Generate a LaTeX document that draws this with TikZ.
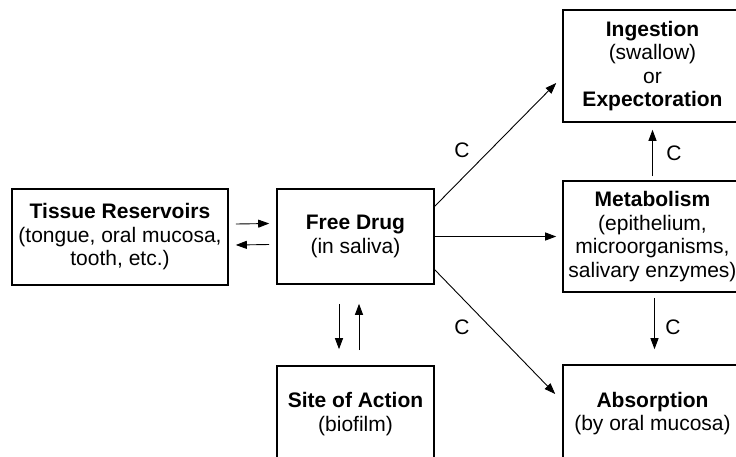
\documentclass[tikz,border=0pt]{standalone}
\usepackage{fontspec}
\setmainfont{Liberation Sans}
\usetikzlibrary{arrows.meta}
\begin{document}
\begin{tikzpicture}[x=1pt,y=-1pt,
  box/.style={draw, line width=1.6pt, align=center, inner sep=0pt, font=\fontsize{21}{23.5}\selectfont},
  arr/.style={line width=0.9pt, -{Triangle[length=11pt,width=8pt]}},
  lab/.style={font=\fontsize{21}{23.5}\selectfont, inner sep=0pt}]
\useasboundingbox (0,0) rectangle (736,456);
\clip (0,0) rectangle (736,456);
\node[box, minimum width=216pt, minimum height=96pt] (tissue) at (120,237)
  {\textbf{Tissue Reservoirs}\\(tongue, oral mucosa,\\tooth, etc.)};
\node[box, minimum width=157pt, minimum height=95pt] (free) at (355.5,236.5)
  {\textbf{Free Drug}\\(in saliva)};
\node[box, minimum width=179pt, minimum height=112pt] (ingest) at (652.5,66)
  {\textbf{Ingestion}\\(swallow)\\or\\\textbf{Expectoration}};
\node[box, minimum width=179pt, minimum height=111pt] (metab) at (652.5,236.5)
  {\textbf{Metabolism}\\(epithelium,\\microorganisms,\\salivary enzymes)};
\node[box, minimum width=179pt, minimum height=97pt] (absorb) at (652.5,413.5)
  {\textbf{Absorption}\\(by oral mucosa)};
\node[box, minimum width=157pt, minimum height=96pt] (site) at (355.5,414)
  {\textbf{Site of Action}\\(biofilm)};
% tissue <-> free
\draw[arr] ([shift={(7,-13)}]tissue.east) -- ([shift={(-7,-13)}]free.west);
\draw[arr] ([shift={(-7,8)}]free.west) -- ([shift={(7,8)}]tissue.east);
% free <-> site
\draw[arr] ([shift={(-16.5,19)}]free.south) -- ([shift={(-16.5,-16)}]site.north);
\draw[arr] ([shift={(3.5,-15)}]site.north) -- ([shift={(3.5,19)}]free.south);
% free -> right column
\draw[arr] ([shift={(0,18)}]free.north east) -- ([shift={(-6,17)}]ingest.west);
\draw[arr] (free.east) -- ([shift={(-6,0)}]metab.west);
\draw[arr] ([shift={(0,-15)}]free.south east) -- ([shift={(-7,-19.5)}]absorb.west);
% metab -> ingest / absorb
\draw[arr] ([shift={(0,-4)}]metab.north) -- ([shift={(0,7)}]ingest.south);
\draw[arr] ([shift={(2,5)}]metab.south) -- ([shift={(2,-15)}]absorb.north);
% labels
\node[lab] (c1) at (462,150) {C};
\node[lab] (c2) at (462,327) {C};
\node[lab] (c3) at (674,153) {C};
\node[lab] (c4) at (673,327) {C};
\end{tikzpicture}
\end{document}
